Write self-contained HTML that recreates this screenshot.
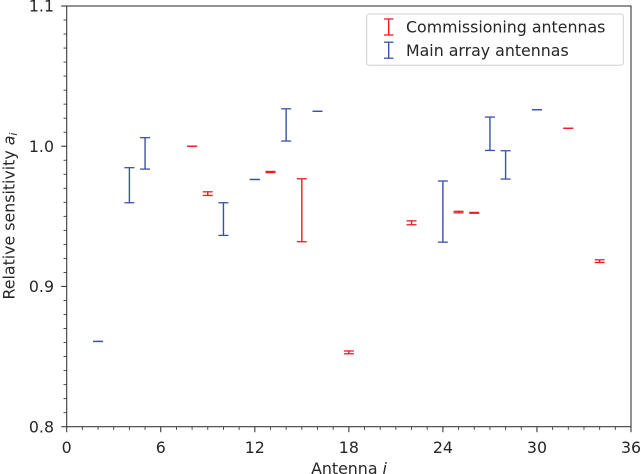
<!DOCTYPE html>
<html>
<head>
<meta charset="utf-8">
<style>
html,body{margin:0;padding:0;background:#fff;width:641px;height:474px;overflow:hidden}
svg{display:block;font-family:"DejaVu Sans",sans-serif;fill:#262626}
</style>
</head>
<body>
<svg id="chart" width="641" height="474" viewBox="0 0 641 474" xmlns="http://www.w3.org/2000/svg"></svg>
<script>
const xMajorTicks = [0, 6, 12, 18, 24, 30, 36];
const yMajorTicks = [0.8, 0.9, 1.0, 1.1];
const yTickLabels = ["0.8", "0.9", "1.0", "1.1"];
const commissioningAntennas = [8, 9, 13, 15, 18, 22, 25, 26, 32, 34];
const commissioningLow = [1.0000, 0.9649, 0.9812, 0.9319, 0.8520, 0.9440, 0.9525, 0.9522, 1.0128, 0.9171];
const commissioningHigh = [1.0000, 0.9675, 0.9820, 0.9768, 0.8540, 0.9468, 0.9536, 0.9528, 1.0128, 0.9190];
const mainAntennas = [2, 4, 5, 10, 12, 14, 16, 24, 27, 28, 30];
const mainLow = [0.8608, 0.9597, 0.9837, 0.9364, 0.9763, 1.0037, 1.0249, 0.9316, 0.9970, 0.9766, 1.0260];
const mainHigh = [0.8608, 0.9847, 1.0061, 0.9597, 0.9763, 1.0267, 1.0249, 0.9752, 1.0208, 0.9968, 1.0260];

const NS = 'http://www.w3.org/2000/svg';
const svg = document.getElementById('chart');
const L = 66.7, R = 631, T = 6, B = 426.7;
const xScale = v => L + (v - 0) / 36 * (R - L);
const yScale = v => B - (v - 0.8) / 0.3 * (B - T);

function make(tag, attrs, parent) {
  const el = document.createElementNS(NS, tag);
  for (const k in attrs) el.setAttribute(k, attrs[k]);
  (parent || svg).appendChild(el);
  return el;
}
function seg(x1, y1, x2, y2, stroke, width, parent) {
  return make('line', {x1, y1, x2, y2, stroke, 'stroke-width': width}, parent);
}

const AXIS = '#3a3a3a';
const FS = 15.8;

// x ticks
for (let i = 0; i <= 36; i++) {
  const major = i % 6 === 0;
  const t = seg(xScale(i), B, xScale(i), B + (major ? 5.5 : 3.2), AXIS, major ? 1.1 : 0.9);
  
  
}
xMajorTicks.forEach(v => {
  const t = make('text', {x: xScale(v), y: 453, 'text-anchor': 'middle', 'font-size': FS});
  t.textContent = String(v);
  
  
});

// y ticks
for (let i = 0; i <= 30; i++) {
  const major = i % 10 === 0;
  const y = yScale(0.8 + i / 100);
  const t = seg(L, y, L - (major ? 5.5 : 3.2), y, AXIS, major ? 1.1 : 0.9);
  
  
}
yMajorTicks.forEach((v, i) => {
  const t = make('text', {x: 54, y: yScale(v) + 5.7, 'text-anchor': 'end', 'font-size': FS});
  t.textContent = yTickLabels[i];
  
  
});

// error bars
function drawBars(xs, lows, highs, color, name) {
  xs.forEach((a, i) => {
    const g = make('g', {});
    
    
    const x = xScale(a), y0 = yScale(lows[i]), y1 = yScale(highs[i]);
    seg(x, y0, x, y1, color, 1.4, g);
    seg(x - 5, y0, x + 5, y0, color, 1.3, g);
    seg(x - 5, y1, x + 5, y1, color, 1.3, g);
  });
}
drawBars(commissioningAntennas, commissioningLow, commissioningHigh, '#ed1c24', 'commissioning-errorbar');
drawBars(mainAntennas, mainLow, mainHigh, '#3953a4', 'main-errorbar');

// axes frame
const frame = make('rect', {x: L, y: T, width: R - L, height: B - T, fill: 'none', stroke: AXIS, 'stroke-width': 1.1});



// axis titles
const xt = make('text', {x: 349, y: 473.8, 'text-anchor': 'middle', 'font-size': FS});


xt.appendChild(document.createTextNode('Antenna '));
const xti = make('tspan', {'font-style': 'italic'}, xt);
xti.textContent = 'i';

const yt = make('text', {transform: 'translate(14.5,216) rotate(-90)', 'text-anchor': 'middle', 'font-size': FS});


yt.appendChild(document.createTextNode('Relative sensitivity '));
const yta = make('tspan', {'font-style': 'italic'}, yt);
yta.textContent = 'a';
const yts = make('tspan', {'font-style': 'italic', 'font-size': 11, dy: 2.4}, yt);
yts.textContent = 'i';

// legend
const legend = make('g', {});


make('rect', {x: 366.7, y: 14, width: 256.6, height: 51.3, rx: 2.5, fill: '#fff', stroke: '#d0d0d0', 'stroke-width': 1}, legend);
function legendEntry(y, color, label, name) {
  const g = make('g', {}, legend);
  
  
  seg(388.7, y - 8, 388.7, y + 8, color, 1.4, g);
  seg(384, y - 8, 393.4, y - 8, color, 1.3, g);
  seg(384, y + 8, 393.4, y + 8, color, 1.3, g);
  const t = make('text', {x: 406, y: y + 5.7, 'font-size': FS}, g);
  t.textContent = label;
}
legendEntry(27, '#ed1c24', 'Commissioning antennas', 'legend-entry-commissioning');
legendEntry(50.2, '#3953a4', 'Main array antennas', 'legend-entry-main-array');
</script>
</body>
</html>
